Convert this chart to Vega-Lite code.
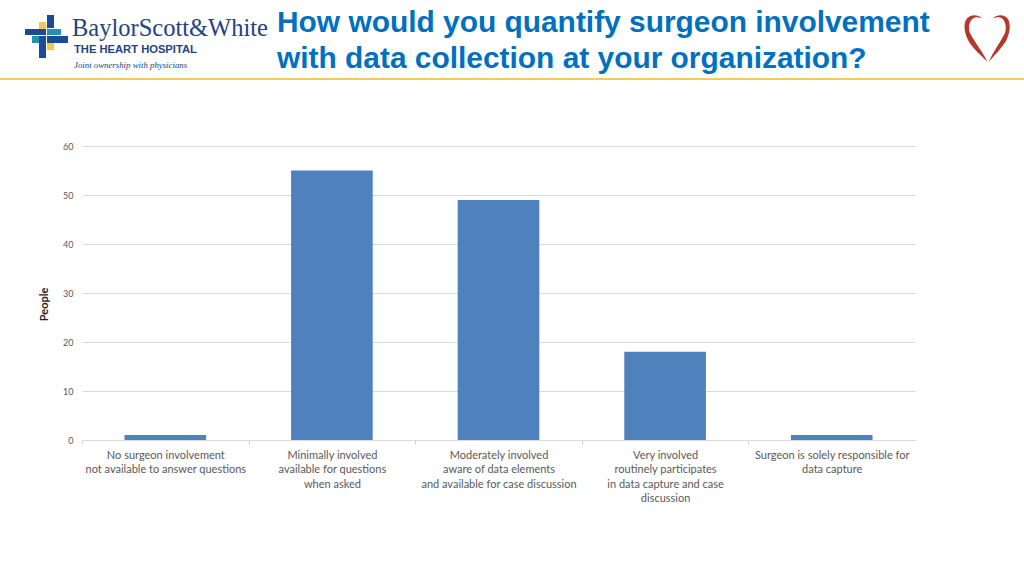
{
"$schema":"https://vega.github.io/schema/vega-lite/v6.json",
"width":833,"height":294,
"autosize":"none",
"padding":{"left":82,"top":146,"right":109,"bottom":136},
"background":"white",
"view":{"stroke":null},
"title":{"text":["How would you quantify surgeon involvement","with data collection at your organization?"],"anchor":"start","frame":"group","dx":195,"offset":-59,"font":"Liberation Sans","fontWeight":"bold","fontSize":29.9,"lineHeight":36,"color":"#0070c0"},
"layer":[
{"data":{"values":[
{"category":"No surgeon involvement|not available to answer questions","people":1},
{"category":"Minimally involved|available for questions|when asked","people":55},
{"category":"Moderately involved|aware of data elements|and available for case discussion","people":49},
{"category":"Very involved|routinely participates|in data capture and case|discussion","people":18},
{"category":"Surgeon is solely responsible for|data capture","people":1}
]},
"mark":{"type":"bar","color":"#4f81bd"},
"encoding":{
"x":{"field":"category","type":"nominal","sort":null,"title":null,"scale":{"paddingInner":0.51,"paddingOuter":0.255},
"axis":{"labelAngle":0,"labelExpr":"split(datum.label,'|')","labelFont":"Lato","labelFontSize":11,"labelColor":"#595959","labelLineHeight":14.5,"labelPadding":5,"labelLimit":200,"ticks":true,"tickBand":"center","tickOffset":-83.3,"labelOffset":83.3,"tickColor":"#d0d0d0","domainColor":"#d9d9d9","tickSize":4,"labelBaseline":"top"}},
"y":{"field":"people","type":"quantitative","title":"People","scale":{"domain":[0,60]},
"axis":{"values":[0,10,20,30,40,50,60],"labelFont":"Lato","labelFontSize":9,"labelColor":"#595959","labelPadding":9,"ticks":false,"domain":false,"gridColor":"#d9d9d9","grid":true,"titleFont":"Lato","titleFontSize":11,"titleFontWeight":"bold","titleColor":"#222222","titlePadding":13,"titleY":158}}
}},
{"layer":[
{"data":{"values":[{"k":"a"}]},
"mark":{"type":"rule","color":"#f5c95c","strokeWidth":2},
"encoding":{"x":{"datum":0,"type":"quantitative","scale":{"domain":[0,1024],"range":[-82,942]},"axis":null},"x2":{"datum":1024},"y":{"datum":79,"type":"quantitative","scale":{"domain":[0,576],"range":[-146,430]},"axis":null}}},
{"data":{"values":[{"t":"BaylorScott&White"}]},"mark":{"type":"text","align":"left","baseline":"alphabetic","font":"Liberation Serif","fontSize":24.5,"color":"#24427f"},
"encoding":{"text":{"field":"t"},"x":{"datum":72,"type":"quantitative","scale":{"domain":[0,1024],"range":[-82,942]},"axis":null},"y":{"datum":36,"type":"quantitative","scale":{"domain":[0,576],"range":[-146,430]},"axis":null}}},
{"data":{"values":[{"t":"THE HEART HOSPITAL"}]},"mark":{"type":"text","align":"left","baseline":"alphabetic","font":"Liberation Sans","fontWeight":"bold","fontSize":11.2,"color":"#24427f"},
"encoding":{"text":{"field":"t"},"x":{"datum":74,"type":"quantitative","scale":{"domain":[0,1024],"range":[-82,942]},"axis":null},"y":{"datum":53,"type":"quantitative","scale":{"domain":[0,576],"range":[-146,430]},"axis":null}}},
{"data":{"values":[{"t":"Joint ownership with physicians"}]},"mark":{"type":"text","align":"left","baseline":"alphabetic","font":"Liberation Serif","fontStyle":"italic","fontSize":8.8,"color":"#24427f"},
"encoding":{"text":{"field":"t"},"x":{"datum":74,"type":"quantitative","scale":{"domain":[0,1024],"range":[-82,942]},"axis":null},"y":{"datum":68,"type":"quantitative","scale":{"domain":[0,576],"range":[-146,430]},"axis":null}}},
{"data":{"values":[{"k":"gold"}]},"mark":{"type":"point","filled":true,"opacity":1,"size":4,"color":"#f7c54a","shape":"M39 22H46V35H39ZM47 37H54V50H47Z"},
"encoding":{"x":{"datum":0,"type":"quantitative","scale":{"domain":[0,1024],"range":[-82,942]},"axis":null},"y":{"datum":0,"type":"quantitative","scale":{"domain":[0,576],"range":[-146,430]},"axis":null}}},
{"data":{"values":[{"k":"teal"}]},"mark":{"type":"point","filled":true,"opacity":1,"size":4,"color":"#1f93b5","shape":"M47 29H61V35H47ZM32 36H46V43H32Z"},
"encoding":{"x":{"datum":0,"type":"quantitative","scale":{"domain":[0,1024],"range":[-82,942]},"axis":null},"y":{"datum":0,"type":"quantitative","scale":{"domain":[0,576],"range":[-146,430]},"axis":null}}},
{"data":{"values":[{"k":"navy"}]},"mark":{"type":"point","filled":true,"opacity":1,"size":4,"color":"#1c4a94","shape":"M47 15H54V28H47ZM25 29H46V35H25ZM47 36H68V43H47ZM39 36H46V58H39Z"},
"encoding":{"x":{"datum":0,"type":"quantitative","scale":{"domain":[0,1024],"range":[-82,942]},"axis":null},"y":{"datum":0,"type":"quantitative","scale":{"domain":[0,576],"range":[-146,430]},"axis":null}}},
{"data":{"values":[{"k":"heart"}]},"mark":{"type":"point","filled":true,"opacity":1,"size":4,"color":"#b5392b","shape":"M982 18.5C978 14 970 14 966.5 19C963 25 964.5 33 968.5 41C974 50 982 56 987.5 62C983 52 975 43 970 33C967.5 26 970 19 975 17.5C978 17 980 18 982 18.5ZM993 18.5C997 14 1005 14 1008 19C1011 25 1010 33 1006 41C1000 50 994 56 988.5 62C993 52 1000 43 1005 33C1007 26 1005 19 1000 17.5C997 17 995 18 993 18.5Z"},
"encoding":{"x":{"datum":0,"type":"quantitative","scale":{"domain":[0,1024],"range":[-82,942]},"axis":null},"y":{"datum":0,"type":"quantitative","scale":{"domain":[0,576],"range":[-146,430]},"axis":null}}}
]}
],
"resolve":{"scale":{"x":"independent","y":"independent"}}
}
